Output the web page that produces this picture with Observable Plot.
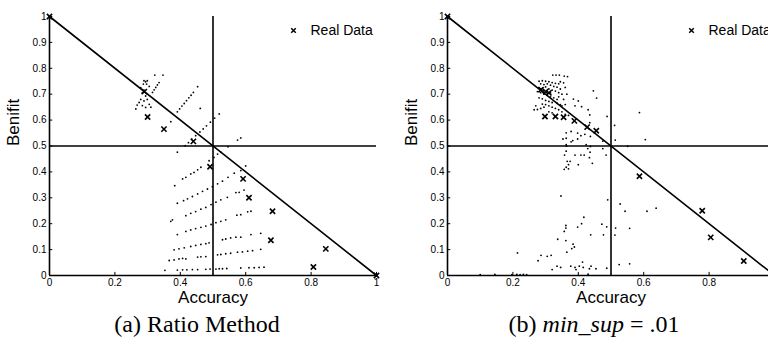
<!DOCTYPE html>
<html><head><meta charset="utf-8">
<script src="https://cdn.jsdelivr.net/npm/d3@7"></script>
<script src="https://cdn.jsdelivr.net/npm/@observablehq/plot@0.6"></script>
<style>
html,body{margin:0;padding:0;background:#fff;}
#wrap{position:relative;width:768px;height:350px;overflow:hidden;background:#fff;}
.panel{position:absolute;top:0;width:400px;height:300px;}
.panel svg{max-width:none !important;}
.cap{position:absolute;top:311px;font-family:"Liberation Serif","Times New Roman",serif;font-size:24px;white-space:nowrap;transform:translateX(-50%);color:#000;}
</style></head><body><div id="wrap">
<div id="pa" class="panel" style="left:0"></div>
<div id="pb" class="panel" style="left:398px"></div>
<div class="cap" style="left:197px">(a) Ratio Method</div>
<div class="cap" style="left:594px">(b) <i>min_sup</i> = .01</div>
</div>
<script>
const xTicks = [0, 0.2, 0.4, 0.6, 0.8, 1];
const yTicks = [0, 0.1, 0.2, 0.3, 0.4, 0.5, 0.6, 0.7, 0.8, 0.9, 1];
const thresholdX = [0.5];
const thresholdY = [0.5];
const diagonal = [[0, 1], [1, 0]];
const xLabel = "Accuracy";
const yLabel = "Benifit";
const legendLabel = "Real Data";

const ratioReal = [[0,1],[0.29,0.71],[0.30,0.612],[0.35,0.565],[0.44,0.518],[0.491,0.42],[0.592,0.373],[0.61,0.30],[0.682,0.248],[0.677,0.136],[0.845,0.103],[0.807,0.033],[1,0]];

const ratioDots = [
[0.353,0.02],[0.391,0.021],[0.407,0.022],[0.42,0.022],[0.437,0.023],[0.453,0.023],[0.478,0.024],[0.491,0.025],[0.509,0.025],[0.519,0.026],[0.529,0.026],[0.542,0.027],[0.585,0.029],[0.61,0.03],[0.626,0.03],[0.641,0.031],[0.656,0.032],
[0.366,0.058],[0.381,0.060],[0.396,0.064],[0.407,0.066],[0.417,0.064],[0.453,0.071],[0.463,0.072],[0.478,0.073],[0.514,0.080],[0.524,0.081],[0.539,0.084],[0.554,0.086],[0.575,0.090],[0.590,0.091],[0.606,0.094],[0.621,0.096],[0.646,0.101],
[0.381,0.099],[0.396,0.103],[0.412,0.107],[0.432,0.112],[0.447,0.116],[0.463,0.120],[0.478,0.123],[0.488,0.126],[0.529,0.138],[0.539,0.141],[0.554,0.145],[0.570,0.148],[0.585,0.148],[0.616,0.158],[0.646,0.163],
[0.391,0.158],[0.417,0.170],[0.432,0.176],[0.447,0.181],[0.463,0.186],[0.478,0.191],[0.494,0.197],[0.509,0.204],[0.524,0.209],[0.539,0.215],[0.573,0.233],[0.585,0.235],[0.606,0.246],[0.616,0.248],[0.371,0.209],[0.376,0.215],
[0.417,0.231],[0.432,0.240],[0.447,0.247],[0.463,0.256],[0.478,0.263],[0.494,0.274],[0.509,0.283],[0.524,0.292],[0.544,0.302],[0.570,0.320],[0.580,0.321],[0.595,0.330],[0.391,0.279],
[0.410,0.289],[0.422,0.296],[0.437,0.305],[0.453,0.315],[0.468,0.325],[0.483,0.334],[0.498,0.343],[0.514,0.354],[0.529,0.364],[0.546,0.379],[0.565,0.395],[0.585,0.405],[0.600,0.423],
[0.383,0.347],[0.407,0.373],[0.417,0.379],[0.432,0.392],[0.442,0.398],[0.453,0.408],[0.463,0.418],[0.488,0.443],[0.503,0.456],[0.514,0.469],[0.524,0.476],[0.546,0.497],[0.575,0.523],[0.585,0.531],
[0.391,0.476],
[0.415,0.501],[0.425,0.513],[0.435,0.526],[0.447,0.540],[0.46,0.554],[0.47,0.566],[0.48,0.578],[0.492,0.592],[0.505,0.608],[0.519,0.624],
[0.391,0.632],[0.398,0.643],[0.405,0.654],[0.412,0.664],[0.419,0.675],[0.426,0.686],[0.433,0.696],[0.440,0.707],[0.453,0.729],
[0.461,0.645],[0.371,0.594],
[0.289,0.752],[0.294,0.748],[0.299,0.752],[0.287,0.739],[0.297,0.739],[0.305,0.730],[0.279,0.725],[0.289,0.716],[0.284,0.706],[0.294,0.693],[0.279,0.68],[0.289,0.674],[0.299,0.68],[0.268,0.658],[0.284,0.656],[0.294,0.649],[0.264,0.643],[0.305,0.661],[0.31,0.65],[0.274,0.668],
[0.315,0.707],[0.320,0.717],[0.325,0.726],[0.330,0.736],[0.335,0.745],[0.322,0.774],[0.347,0.774]
];

const supReal = [[0,1],[0.286,0.717],[0.30,0.71],[0.31,0.705],[0.298,0.614],[0.330,0.614],[0.355,0.611],[0.388,0.597],[0.427,0.573],[0.455,0.559],[0.587,0.383],[0.779,0.250],[0.805,0.147],[0.906,0.056],[1,0]];

const supDots = [
[0.28,0.75],[0.29,0.752],[0.30,0.75],[0.31,0.748],[0.32,0.745],[0.33,0.742],[0.34,0.74],
[0.285,0.74],[0.295,0.737],[0.305,0.74],[0.315,0.735],[0.325,0.73],[0.335,0.727],[0.345,0.72],
[0.28,0.725],[0.29,0.722],[0.30,0.728],[0.31,0.72],[0.32,0.716],[0.33,0.712],[0.34,0.706],[0.35,0.70],
[0.275,0.71],[0.285,0.706],[0.295,0.70],[0.305,0.696],[0.315,0.69],[0.325,0.686],[0.335,0.68],
[0.28,0.686],[0.29,0.682],[0.30,0.676],[0.31,0.672],[0.32,0.668],[0.335,0.665],[0.345,0.66],
[0.265,0.64],[0.275,0.641],[0.285,0.645],[0.295,0.65],[0.31,0.655],[0.32,0.65],[0.33,0.645],[0.34,0.64],
[0.35,0.632],[0.36,0.622],[0.37,0.618],[0.345,0.748],[0.355,0.744],[0.36,0.726],[0.365,0.70],
[0.322,0.774],[0.332,0.774],[0.342,0.774],[0.357,0.77],[0.367,0.768],
[0.30,0.66],[0.29,0.662],[0.27,0.655],[0.31,0.632],[0.32,0.628],[0.355,0.68],[0.36,0.66],[0.35,0.655],[0.34,0.69],[0.295,0.715],[0.305,0.71],[0.285,0.72],[0.315,0.705],
[0.385,0.681],[0.40,0.674],[0.39,0.655],[0.41,0.652],[0.446,0.713],[0.456,0.685],[0.43,0.64],[0.435,0.62],[0.488,0.614],[0.511,0.580],[0.435,0.59],
[0.363,0.551],[0.378,0.556],[0.398,0.55],[0.408,0.54],[0.42,0.545],[0.437,0.537],[0.398,0.527],[0.383,0.521],[0.363,0.53],[0.353,0.527],[0.363,0.505],[0.378,0.516],[0.475,0.519],[0.513,0.523],
[0.424,0.505],[0.437,0.498],[0.429,0.49],[0.436,0.476],[0.418,0.465],[0.475,0.49],[0.485,0.465],[0.364,0.500],[0.363,0.48],[0.39,0.465],[0.408,0.465],[0.434,0.455],[0.358,0.465],
[0.366,0.441],[0.375,0.441],[0.37,0.428],[0.363,0.418],[0.37,0.412],[0.40,0.428],[0.443,0.433],[0.357,0.41],
[0.551,0.499],[0.587,0.629],[0.605,0.525],
[0.347,0.307],[0.490,0.292],[0.528,0.276],[0.543,0.248],[0.610,0.248],[0.638,0.260],
[0.514,0.183],[0.557,0.182],[0.512,0.156],[0.477,0.157],[0.472,0.198],[0.487,0.188],[0.438,0.157],[0.410,0.2],[0.417,0.225],[0.398,0.187],[0.362,0.193],[0.362,0.183],[0.357,0.17],
[0.337,0.14],[0.362,0.135],[0.384,0.121],[0.388,0.11],[0.380,0.104],[0.365,0.09],[0.317,0.078],[0.305,0.074],[0.286,0.078],[0.277,0.057],[0.214,0.087],
[0.335,0.036],[0.346,0.031],[0.32,0.023],[0.377,0.036],[0.39,0.031],[0.393,0.023],[0.403,0.036],[0.413,0.052],[0.415,0.031],[0.439,0.036],[0.454,0.026],[0.434,0.026],[0.525,0.042],[0.557,0.045],[0.487,0.028],[0.43,0.005],
[0.10,0.003],[0.145,0.004],[0.197,0.003],[0.212,0.004],[0.222,0.003],[0.232,0.004],[0.242,0.003]
];

const font = "'Liberation Sans', Arial, Helvetica, sans-serif";

function panel(dots, real) {
  return Plot.plot({
    width: 400, height: 300,
    marginLeft: 49, marginRight: 24, marginTop: 16, marginBottom: 25,
    x: {domain: [0, 1]},
    y: {domain: [0, 1]},
    style: {fontFamily: font, fontSize: "10px", color: "#000", background: "transparent", overflow: "visible", maxWidth: "none"},
    marks: [
      Plot.axisX(xTicks, {tickSize: 0, tickPadding: 3, label: null, tickFormat: d => String(d), fontSize: 10}),
      Plot.axisY(yTicks, {tickSize: 0, tickPadding: 3, label: null, tickFormat: d => String(d), fontSize: 10}),
      Plot.ruleX(xTicks, {x: d => d, y1: 0, y2: 0.012, stroke: "#000"}),
      Plot.ruleY(yTicks, {y: d => d, x1: 0, x2: 0.01, stroke: "#000"}),
      Plot.dot(dots, {x: d => d[0], y: d => d[1], r: 0.9, fill: "#000", stroke: "none"}),
      Plot.line(diagonal, {x: d => d[0], y: d => d[1], stroke: "#000", strokeWidth: 1.6}),
      Plot.ruleX(thresholdX, {x: d => d, y1: 0, y2: 1, stroke: "#000", strokeWidth: 1.6}),
      Plot.ruleY(thresholdY, {y: d => d, x1: 0, x2: 1, stroke: "#000", strokeWidth: 1.6}),
      Plot.ruleX([0], {stroke: "#000", strokeWidth: 1.6}),
      Plot.ruleY([0], {stroke: "#000", strokeWidth: 1.6}),
      Plot.dot(real, {x: d => d[0], y: d => d[1], symbol: "times", r: 2.5, stroke: "#000", strokeWidth: 1.6}),
      Plot.dot([legendLabel], {frameAnchor: "top-right", dx: -83, dy: 14, symbol: "times", r: 2.2, stroke: "#000", strokeWidth: 1.5}),
      Plot.text([legendLabel], {frameAnchor: "top-right", dx: -66, dy: 14, text: d => d, textAnchor: "start", lineAnchor: "middle", fontSize: 14, fill: "#000"}),
      Plot.text([xLabel], {frameAnchor: "bottom", dy: 22, text: d => d, lineAnchor: "middle", fontSize: 17, fill: "#000"}),
      Plot.text([yLabel], {frameAnchor: "left", dx: -36, rotate: -90, text: d => d, lineAnchor: "middle", fontSize: 17, fill: "#000"})
    ]
  });
}

document.getElementById("pa").appendChild(panel(ratioDots, ratioReal));
document.getElementById("pb").appendChild(panel(supDots, supReal));
</script>
</body></html>
